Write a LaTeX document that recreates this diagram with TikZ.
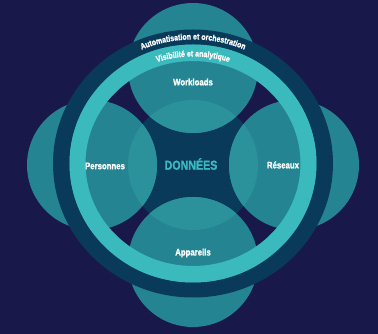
\documentclass[tikz,border=0pt]{standalone}
\usepackage{fontspec}
\setmainfont[FakeStretch=0.82,BoldFeatures={FakeBold=1.2}]{Liberation Sans}
\usetikzlibrary{decorations.text}
\definecolor{NightBg}{RGB}{24,25,74}
\definecolor{DeepTeal}{RGB}{10,58,90}
\definecolor{RingTeal}{RGB}{58,186,188}
\definecolor{LobeTeal}{RGB}{37,132,145}
\definecolor{LensTeal}{RGB}{43,146,156}
\tikzset{
  lobe/.style={fill=LobeTeal},
  lens/.style={fill=LensTeal},
  lobetext/.style={text=white, font=\bfseries\fontsize{9.5}{10}\selectfont},
  coretext/.style={text=RingTeal, font=\bfseries\fontsize{13}{14}\selectfont},
}
\begin{document}
\begin{tikzpicture}[x=1pt,y=1pt]
    \coordinate (Origin)     at (0,0);
    \coordinate (RingCtr)    at (0,1.5);
    \coordinate (TopLobe)    at (0,97);
    \coordinate (BottomLobe) at (0,-97);
    \coordinate (LeftLobe)   at (-101,0);
    \coordinate (RightLobe)  at (101,0);
    \fill [NightBg] (-193,-169) rectangle (185,165);% background
    \useasboundingbox (-193,-169) rectangle (185,165);
    \fill [DeepTeal] (Origin) circle [radius=65];% core
    \foreach \lobe in {TopLobe,BottomLobe,LeftLobe,RightLobe}
      \fill [lobe] (\lobe) circle [radius=65];
    \begin{scope}
      \clip (Origin) circle [radius=65];
      \foreach \lobe in {TopLobe,BottomLobe,LeftLobe,RightLobe}
        \fill [lens] (\lobe) circle [radius=65];
    \end{scope}
    \fill [DeepTeal,even odd rule] (RingCtr) ellipse [x radius=140,y radius=134]
      (RingCtr) ellipse [x radius=123.5,y radius=119];% outer ring
    \fill [RingTeal,even odd rule] (RingCtr) ellipse [x radius=123.5,y radius=119]
      (RingCtr) ellipse [x radius=107.5,y radius=102.5];% inner ring
    \path [decorate,decoration={text along path,text align=center,
      text={|\color{white}\bfseries\fontsize{8.5}{9}\selectfont|Automatisation et orchestration}}]
      (RingCtr) ++(150:129.5 and 124) arc [start angle=150,end angle=30,x radius=129.5,y radius=124];
    \path [decorate,decoration={text along path,text align=center,
      text={|\color{white}\bfseries\fontsize{8.5}{9}\selectfont|Visibilité et analytique}}]
      (RingCtr) ++(150:112 and 107) arc [start angle=150,end angle=30,x radius=112,y radius=107];
    \node [coretext] (Donnees)   at (-2,1)  {DONNÉES};
    \node [lobetext] (Workloads) at (0,83)  {Workloads};
    \node [lobetext] (Personnes) at (-88,-1) {Personnes};
    \node [lobetext] (Reseaux)   at (90,0)  {Réseaux};
    \node [lobetext] (Appareils) at (0,-88) {Appareils};
  \end{tikzpicture}
\end{document}
